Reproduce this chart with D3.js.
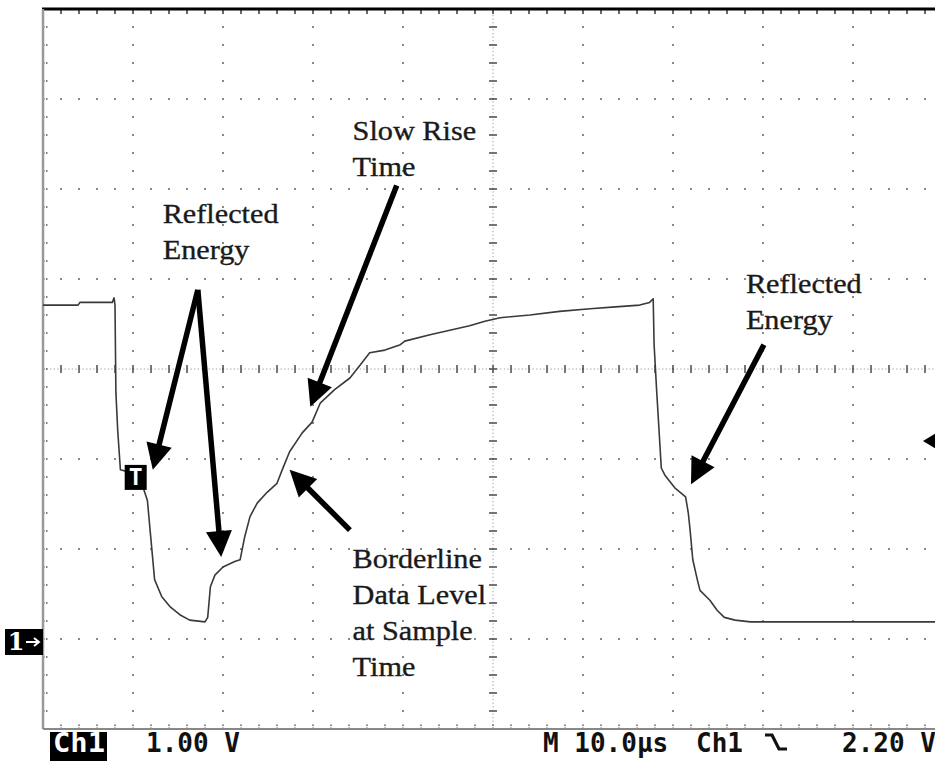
<!DOCTYPE html>
<html>
<head>
<meta charset="utf-8">
<script src="https://cdn.jsdelivr.net/npm/d3@7"></script>
<style>
  html, body { margin: 0; padding: 0; background: #fff; overflow: hidden; }
  svg { display: block; }
</style>
</head>
<body>
<svg id="scope" width="935" height="761"></svg>
<script>
'use strict';

// ── Trace (time in µs, voltage in V) ────────────────────────────
const timeUs = [0, 3.9, 4.1, 7.7, 7.9, 8.0, 8.1, 8.3, 8.6, 9.4, 10.8, 11.3, 11.6, 11.9, 12.4,
  13.2, 14.1, 15.2, 16.3, 18.0, 18.3, 18.6, 19.1, 20.0, 21.3, 21.9, 22.4, 23.0, 23.8, 24.9,
  26.0, 26.7, 27.4, 28.8, 29.9, 30.8, 32.4, 34.1, 35.2, 36.3, 38.0, 39.7, 40.2, 43.0, 45.2,
  47.4, 49.1, 50.8, 54.1, 57.4, 60.8, 63.6, 66.3, 67.4, 67.8, 67.9, 68.2, 68.4, 68.7, 69.1,
  70.2, 71.4, 71.7, 71.9, 72.2, 72.7, 73.0, 74.1, 74.9, 75.7, 76.9, 78.6, 84.1, 90.8, 100];
const volts = [3.71, 3.71, 3.74, 3.74, 3.79, 3.71, 2.74, 2.32, 1.88, 1.86, 1.77, 1.63, 1.54, 1.21, 0.66,
  0.47, 0.36, 0.27, 0.21, 0.19, 0.24, 0.58, 0.71, 0.80, 0.86, 0.88, 1.13, 1.36, 1.51, 1.63,
  1.73, 1.91, 2.08, 2.29, 2.41, 2.62, 2.77, 2.90, 3.04, 3.18, 3.21, 3.27, 3.31, 3.38, 3.43,
  3.48, 3.53, 3.57, 3.60, 3.64, 3.67, 3.69, 3.71, 3.74, 3.78, 3.27, 2.73, 2.40, 1.90, 1.82,
  1.68, 1.58, 1.40, 1.21, 0.88, 0.66, 0.54, 0.43, 0.32, 0.24, 0.21, 0.19, 0.19, 0.19, 0.19];

// ── Annotations ─────────────────────────────────────────────────
const labelLines = [
  ['Reflected', 'Energy'],
  ['Slow Rise', 'Time'],
  ['Borderline', 'Data Level', 'at Sample', 'Time'],
  ['Reflected', 'Energy'],
];
const labelAt   = [[13.3, 4.62], [34.4, 5.54], [34.4, 0.79], [78.1, 3.84]];   // [µs, V] of first baseline
const arrowFrom = [[17.2, 3.88], [17.2, 3.88], [39.3, 5.04], [34.1, 1.21], [80.1, 3.27]];
const arrowTo   = [[12.2, 1.88], [19.8, 0.91], [29.7, 2.58], [27.4, 1.88], [72.0, 1.72]];

// ── Readout ─────────────────────────────────────────────────────
const channel      = 'Ch1';
const voltsPerDiv  = '1.00 V';
const timePerDiv   = 'M 10.0µs';
const trigSource   = 'Ch1';
const trigLevelTxt = '2.20 V';
const trigLevel    = 2.2;   // V
const trigTime     = 10.3;  // µs, "T" marker
const trigMarkV    = 1.79;

const LEFT = 43, TOP = 9, DIV = 90;
const GRID_GREY = '#8a8a8a';

const svg = d3.select('#scope');
const x = d3.scaleLinear().domain([0, 100]).range([LEFT, LEFT + 10 * DIV]);
const y = d3.scaleLinear().domain([-1, 7]).range([TOP + 8 * DIV, TOP]);

const majorT = d3.range(0, 101, 10);
const majorV = d3.range(-1, 8, 1);
const minorT = d3.range(0, 100.01, 2);
const minorV = d3.range(-1, 7.01, 0.2);

// ── Graticule ───────────────────────────────────────────────────
const grid = svg.append('g').attr('class', 'grid');

// dots along major verticals
majorT.slice(1, -1).filter(t => t !== 50).forEach(t => {
  grid.selectAll(null)
    .data(minorV.slice(1, -1))
    .join('rect')
      .attr('x', x(t) - 1).attr('y', d => y(d) - 1)
      .attr('width', 2).attr('height', 2)
      .attr('fill', GRID_GREY);
});
// dots along major horizontals
majorV.slice(1, -1).filter(v => v !== 3).forEach(v => {
  grid.selectAll(null)
    .data(minorT.slice(1))
    .join('rect')
      .attr('x', d => x(d) - 1).attr('y', y(v) - 1)
      .attr('width', 2).attr('height', 2)
      .attr('fill', GRID_GREY);
});

// centre cross: fine dotted with minor ticks
grid.append('line')
  .attr('x1', x(0)).attr('x2', x(100)).attr('y1', y(3)).attr('y2', y(3))
  .attr('stroke', '#999').attr('stroke-width', 1).attr('stroke-dasharray', '1.2,2.4');
grid.append('line')
  .attr('x1', x(50)).attr('x2', x(50)).attr('y1', y(-1)).attr('y2', y(7))
  .attr('stroke', '#999').attr('stroke-width', 1).attr('stroke-dasharray', '1.2,2.4');
grid.selectAll(null)
  .data(minorT.slice(1))
  .join('line')
    .attr('x1', d => x(d)).attr('x2', d => x(d))
    .attr('y1', y(3) - 4).attr('y2', y(3) + 4)
    .attr('stroke', '#555').attr('stroke-width', 1.6);
grid.selectAll(null)
  .data(minorV.slice(1, -1))
  .join('line')
    .attr('x1', x(50) - 4).attr('x2', x(50) + 4)
    .attr('y1', d => y(d)).attr('y2', d => y(d))
    .attr('stroke', '#555').attr('stroke-width', 1.6);

// edge ticks
grid.selectAll(null)
  .data(minorT.slice(1))
  .join('line')
    .attr('x1', d => x(d)).attr('x2', d => x(d))
    .attr('y1', y(7)).attr('y2', y(7) + 5)
    .attr('stroke', '#444').attr('stroke-width', 1.6);
grid.selectAll(null)
  .data(minorT.slice(1))
  .join('line')
    .attr('x1', d => x(d)).attr('x2', d => x(d))
    .attr('y1', y(-1)).attr('y2', y(-1) - 5)
    .attr('stroke', '#555').attr('stroke-width', 1.4)
    .attr('stroke-dasharray', '1.5,1.5');
grid.selectAll(null)
  .data(minorV.slice(1, -1))
  .join('line')
    .attr('x1', x(0)).attr('x2', x(0) + 5)
    .attr('y1', d => y(d)).attr('y2', d => y(d))
    .attr('stroke', '#555').attr('stroke-width', 1.6)
    .attr('stroke-dasharray', '1.5,1.5');

// frame
grid.append('line')
  .attr('x1', x(0) - 1).attr('x2', 935).attr('y1', y(7)).attr('y2', y(7))
  .attr('stroke', '#000').attr('stroke-width', 3);
grid.append('line')
  .attr('x1', x(0)).attr('x2', x(0)).attr('y1', y(7)).attr('y2', y(-1))
  .attr('stroke', '#999').attr('stroke-width', 2.5);
grid.append('line')
  .attr('x1', x(0)).attr('x2', 935).attr('y1', y(-1)).attr('y2', y(-1))
  .attr('stroke', '#888').attr('stroke-width', 2);

// ── Waveform ────────────────────────────────────────────────────
const trace = timeUs.map((t, i) => ({ t, v: volts[i] }));
svg.append('path')
  .datum(trace)
  .attr('fill', 'none')
  .attr('stroke', '#3a3a3a')
  .attr('stroke-width', 1.6)
  .attr('stroke-linejoin', 'round')
  .attr('d', d3.line().x(d => x(d.t)).y(d => y(d.v)));

// ── Scope markers ───────────────────────────────────────────────
// trigger position "T"
const tx = x(trigTime), ty = y(trigMarkV);
svg.append('rect')
  .attr('x', tx - 11).attr('y', ty - 13).attr('width', 22).attr('height', 25)
  .attr('fill', '#000');
svg.append('text')
  .attr('x', tx).attr('y', ty + 7)
  .attr('text-anchor', 'middle')
  .attr('font-family', 'DejaVu Sans Mono').attr('font-weight', 'bold').attr('font-size', 23)
  .attr('fill', '#fff')
  .text('T');

// ground reference "1→"
const gy = y(0);
svg.append('rect')
  .attr('x', 5).attr('y', gy - 10).attr('width', 38).attr('height', 26)
  .attr('fill', '#000');
svg.append('text')
  .attr('x', 16).attr('y', gy + 11)
  .attr('text-anchor', 'middle')
  .attr('font-family', '"DejaVu Serif", serif').attr('font-weight', 'bold').attr('font-size', 24)
  .attr('fill', '#fff')
  .text('1');
svg.append('path')
  .attr('d', `M26,${gy + 3} L38,${gy + 3} M34,${gy - 1} L39,${gy + 3} L34,${gy + 7}`)
  .attr('fill', 'none').attr('stroke', '#fff').attr('stroke-width', 2);

// trigger level ◀
const ly = y(trigLevel);
svg.append('path')
  .attr('d', `M${923},${ly} L${938},${ly - 9} L${938},${ly + 9} Z`)
  .attr('fill', '#000');

// ── Annotation arrows ───────────────────────────────────────────
const HEAD_LEN = 26, HEAD_HALF = 13;
const arrows = svg.append('g').attr('class', 'arrows');
arrowFrom.forEach((f, i) => {
  const x0 = x(f[0]), y0 = y(f[1]);
  const x1 = x(arrowTo[i][0]), y1 = y(arrowTo[i][1]);
  const len = Math.hypot(x1 - x0, y1 - y0);
  const ux = (x1 - x0) / len, uy = (y1 - y0) / len;
  const bx = x1 - ux * HEAD_LEN, by = y1 - uy * HEAD_LEN;
  arrows.append('line')
    .attr('x1', x0).attr('y1', y0).attr('x2', bx + ux * 2).attr('y2', by + uy * 2)
    .attr('stroke', '#000').attr('stroke-width', 5.5).attr('stroke-linecap', 'butt');
  arrows.append('path')
    .attr('d', `M${x1},${y1} L${bx - uy * HEAD_HALF},${by + ux * HEAD_HALF} L${bx + uy * HEAD_HALF},${by - ux * HEAD_HALF} Z`)
    .attr('fill', '#000');
});

// ── Annotation text ─────────────────────────────────────────────
const LINE_GAP = 36;
const labels = svg.append('g').attr('class', 'labels')
  .attr('font-family', '"Liberation Serif", "Times New Roman", serif')
  .attr('font-size', 28)
  .attr('fill', '#1a1a1a')
  .attr('stroke', '#1a1a1a')
  .attr('stroke-width', 0.35);
labelLines.forEach((lines, i) => {
  lines.forEach((s, j) => {
    const t = labels.append('text')
      .attr('x', x(labelAt[i][0]))
      .attr('y', y(labelAt[i][1]) + j * LINE_GAP)
      .text(s);
    const w = t.node().getComputedTextLength();
    t.attr('textLength', w * 1.08).attr('lengthAdjust', 'spacingAndGlyphs');
  });
});

// ── Readout line ────────────────────────────────────────────────
const readout = svg.append('g')
  .attr('font-family', '"DejaVu Sans Mono", monospace')
  .attr('font-weight', 'bold')
  .attr('font-size', 26)
  .attr('fill', '#111');
const BASE = 752;
readout.append('rect')
  .attr('x', 50).attr('y', 732).attr('width', 57).attr('height', 29)
  .attr('fill', '#000');
readout.append('text').attr('x', 53).attr('y', BASE).attr('fill', '#fff')
  .attr('textLength', 52).attr('lengthAdjust', 'spacingAndGlyphs')
  .text(channel);
readout.append('text').attr('x', 146).attr('y', BASE).text(voltsPerDiv);
readout.append('text').attr('x', 543).attr('y', BASE).text(timePerDiv);
readout.append('text').attr('x', 696).attr('y', BASE).text(trigSource);
readout.append('path')
  .attr('d', 'M765,735 L772,735 L779,749 L787,749')
  .attr('fill', 'none').attr('stroke', '#111').attr('stroke-width', 3.2);
readout.append('text').attr('x', 842).attr('y', BASE).text(trigLevelTxt);
</script>
</body>
</html>
